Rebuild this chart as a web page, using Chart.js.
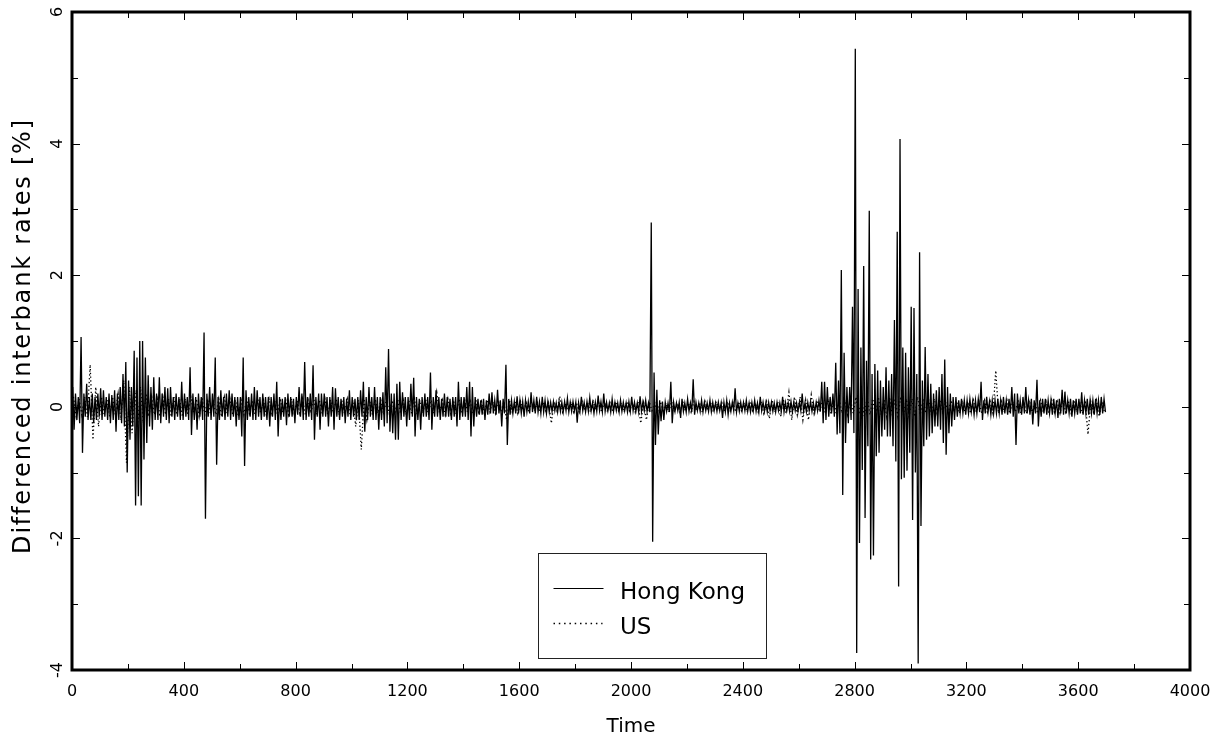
<!DOCTYPE html>
<html><head><meta charset="utf-8">
<script src="https://cdn.jsdelivr.net/npm/chart.js@4.4.0/dist/chart.umd.min.js"></script>
<style>html,body{margin:0;padding:0;background:#fff;}#wrap{width:1220px;height:742px;position:relative;}</style>
</head><body><div id="wrap"><canvas id="c" width="1220" height="742"></canvas></div>
<script>
// ---- Data ----
// Hong Kong: per 10-unit time bin, the upper and lower envelope of the differenced rate (%)
const hkBinStart = 0;
const hkBinWidth = 10;
const hkHigh = [
0.30,0.20,0.15,1.06,0.20,0.35,0.15,0.20,0.15,0.20,
0.28,0.25,0.15,0.20,0.18,0.25,0.20,0.30,0.50,0.68,
0.40,0.30,0.85,0.75,1.00,1.00,0.75,0.48,0.30,0.45,
0.20,0.45,0.20,0.30,0.28,0.30,0.15,0.20,0.15,0.38,
0.20,0.15,0.60,0.20,0.15,0.20,0.15,1.13,0.20,0.30,
0.20,0.75,0.15,0.25,0.15,0.20,0.25,0.20,0.15,0.15,
0.15,0.75,0.25,0.15,0.20,0.30,0.25,0.15,0.20,0.15,
0.15,0.15,0.20,0.38,0.15,0.12,0.15,0.20,0.15,0.12,
0.15,0.30,0.20,0.68,0.15,0.20,0.63,0.15,0.20,0.20,
0.20,0.15,0.15,0.30,0.28,0.15,0.12,0.15,0.12,0.25,
0.15,0.12,0.15,0.25,0.38,0.15,0.30,0.15,0.30,0.15,
0.15,0.22,0.60,0.88,0.20,0.20,0.35,0.38,0.22,0.15,
0.15,0.35,0.44,0.15,0.12,0.15,0.20,0.15,0.52,0.15,
0.25,0.15,0.12,0.20,0.15,0.12,0.15,0.15,0.38,0.15,
0.15,0.30,0.38,0.30,0.15,0.12,0.10,0.12,0.10,0.20,
0.22,0.10,0.26,0.10,0.12,0.64,0.12,0.10,0.08,0.16,
0.10,0.08,0.10,0.08,0.22,0.10,0.15,0.08,0.15,0.10,
0.08,0.07,0.08,0.06,0.08,0.07,0.08,0.13,0.07,0.08,
0.07,0.06,0.15,0.07,0.08,0.14,0.06,0.07,0.17,0.08,
0.20,0.07,0.06,0.12,0.07,0.06,0.10,0.07,0.06,0.08,
0.15,0.07,0.06,0.16,0.07,0.10,0.06,2.80,0.52,0.26,
0.10,0.08,0.07,0.06,0.38,0.07,0.06,0.07,0.12,0.06,
0.12,0.06,0.42,0.07,0.06,0.10,0.07,0.06,0.10,0.07,
0.06,0.07,0.06,0.07,0.10,0.06,0.07,0.28,0.06,0.07,
0.07,0.10,0.06,0.07,0.10,0.06,0.15,0.07,0.06,0.07,
0.07,0.06,0.07,0.06,0.15,0.07,0.06,0.08,0.07,0.06,
0.07,0.20,0.06,0.07,0.08,0.06,0.07,0.10,0.38,0.38,
0.30,0.15,0.20,0.67,0.40,2.08,0.82,0.30,0.30,1.52,
5.44,1.79,0.90,2.14,0.70,2.98,0.50,0.65,0.55,0.40,
0.30,0.60,0.40,0.50,1.32,2.66,4.07,0.90,0.82,0.60,
1.52,1.50,0.50,2.35,0.40,0.91,0.50,0.35,0.20,0.25,
0.30,0.50,0.72,0.30,0.20,0.15,0.15,0.10,0.12,0.10,
0.10,0.12,0.08,0.10,0.12,0.38,0.10,0.15,0.08,0.10,
0.10,0.12,0.10,0.15,0.10,0.12,0.30,0.20,0.20,0.10,
0.15,0.30,0.10,0.12,0.10,0.41,0.10,0.12,0.12,0.10,
0.10,0.12,0.10,0.12,0.26,0.23,0.10,0.12,0.10,0.12,
0.12,0.22,0.10,0.12,0.10,0.10,0.12,0.10,0.15,0.12
];
const hkLow = [
-0.35,-0.20,-0.25,-0.70,-0.15,-0.20,-0.20,-0.25,-0.20,-0.15,
-0.20,-0.15,-0.20,-0.25,-0.20,-0.38,-0.20,-0.25,-0.30,-1.00,
-0.50,-0.30,-1.50,-1.36,-1.50,-0.80,-0.55,-0.30,-0.35,-0.20,
-0.20,-0.25,-0.15,-0.20,-0.25,-0.15,-0.20,-0.15,-0.20,-0.20,
-0.15,-0.20,-0.43,-0.20,-0.35,-0.15,-0.20,-1.70,-0.15,-0.20,
-0.15,-0.88,-0.20,-0.15,-0.20,-0.15,-0.20,-0.15,-0.30,-0.20,
-0.45,-0.90,-0.20,-0.15,-0.20,-0.20,-0.15,-0.20,-0.15,-0.20,
-0.30,-0.15,-0.20,-0.45,-0.20,-0.15,-0.28,-0.15,-0.15,-0.25,
-0.12,-0.15,-0.20,-0.20,-0.15,-0.20,-0.50,-0.15,-0.35,-0.15,
-0.15,-0.30,-0.15,-0.35,-0.15,-0.20,-0.15,-0.25,-0.15,-0.20,
-0.15,-0.20,-0.20,-0.15,-0.38,-0.20,-0.15,-0.20,-0.20,-0.35,
-0.20,-0.30,-0.25,-0.38,-0.40,-0.50,-0.50,-0.20,-0.15,-0.30,
-0.20,-0.15,-0.45,-0.20,-0.35,-0.15,-0.15,-0.20,-0.35,-0.15,
-0.15,-0.20,-0.15,-0.15,-0.15,-0.20,-0.15,-0.30,-0.20,-0.15,
-0.15,-0.20,-0.45,-0.30,-0.15,-0.12,-0.12,-0.20,-0.12,-0.10,
-0.10,-0.12,-0.10,-0.30,-0.10,-0.58,-0.12,-0.10,-0.10,-0.10,
-0.10,-0.15,-0.08,-0.10,-0.08,-0.10,-0.08,-0.10,-0.08,-0.10,
-0.08,-0.07,-0.06,-0.08,-0.07,-0.08,-0.06,-0.08,-0.07,-0.06,
-0.24,-0.07,-0.06,-0.08,-0.07,-0.06,-0.10,-0.07,-0.06,-0.08,
-0.07,-0.06,-0.08,-0.07,-0.06,-0.08,-0.07,-0.06,-0.08,-0.07,
-0.06,-0.07,-0.08,-0.07,-0.06,-0.07,-0.08,-2.05,-0.58,-0.42,
-0.22,-0.20,-0.07,-0.08,-0.25,-0.07,-0.06,-0.17,-0.07,-0.08,
-0.07,-0.08,-0.12,-0.06,-0.07,-0.08,-0.06,-0.07,-0.08,-0.06,
-0.07,-0.06,-0.17,-0.08,-0.12,-0.07,-0.06,-0.08,-0.07,-0.06,
-0.06,-0.07,-0.08,-0.06,-0.07,-0.08,-0.06,-0.07,-0.08,-0.06,
-0.07,-0.08,-0.06,-0.07,-0.08,-0.06,-0.07,-0.08,-0.06,-0.07,
-0.06,-0.07,-0.08,-0.06,-0.07,-0.08,-0.06,-0.07,-0.25,-0.20,
-0.15,-0.10,-0.15,-0.42,-0.40,-1.34,-0.55,-0.25,-0.20,-0.40,
-3.74,-2.07,-0.96,-1.69,-0.60,-2.32,-2.26,-0.75,-0.70,-0.45,
-0.35,-0.45,-0.45,-0.60,-0.83,-2.73,-1.10,-1.08,-0.97,-0.70,
-1.72,-1.00,-3.90,-1.81,-0.60,-0.50,-0.45,-0.40,-0.30,-0.30,
-0.35,-0.55,-0.73,-0.40,-0.30,-0.20,-0.15,-0.10,-0.10,-0.12,
-0.10,-0.08,-0.12,-0.10,-0.08,-0.20,-0.10,-0.08,-0.12,-0.10,
-0.10,-0.10,-0.12,-0.10,-0.12,-0.10,-0.15,-0.58,-0.10,-0.12,
-0.10,-0.10,-0.12,-0.27,-0.10,-0.30,-0.15,-0.10,-0.12,-0.10,
-0.12,-0.10,-0.17,-0.10,-0.12,-0.10,-0.10,-0.15,-0.10,-0.12,
-0.10,-0.12,-0.10,-0.12,-0.10,-0.12,-0.10,-0.12,-0.10,-0.08
];
// US: per 20-unit time bin, upper and lower envelope (%)
const usBinStart = 0;
const usBinWidth = 20;
const usHigh = [
0.15,0.12,0.15,0.64,0.30,0.15,0.12,0.15,0.20,0.40,
0.30,0.25,0.30,0.20,0.15,0.12,0.15,0.12,0.15,0.12,
0.12,0.15,0.12,0.15,0.12,0.10,0.12,0.15,0.12,0.10,
0.10,0.12,0.10,0.12,0.10,0.12,0.10,0.12,0.10,0.12,
0.10,0.12,0.10,0.12,0.10,0.12,0.10,0.12,0.10,0.12,
0.10,0.10,0.12,0.10,0.12,0.10,0.12,0.10,0.12,0.10,
0.10,0.12,0.10,0.12,0.10,0.22,0.10,0.12,0.10,0.12,
0.10,0.08,0.10,0.08,0.10,0.08,0.10,0.08,0.10,0.08,
0.08,0.06,0.08,0.06,0.08,0.06,0.08,0.16,0.06,0.08,
0.06,0.08,0.06,0.08,0.06,0.08,0.06,0.08,0.06,0.08,
0.06,0.08,0.06,0.08,0.06,0.08,0.06,0.08,0.06,0.08,
0.06,0.08,0.06,0.08,0.06,0.08,0.06,0.08,0.06,0.08,
0.06,0.08,0.06,0.08,0.08,0.10,0.08,0.12,0.22,0.15,
0.15,0.10,0.18,0.10,0.10,0.12,0.10,0.12,0.10,0.12,
0.15,0.12,0.15,0.12,0.15,0.12,0.15,0.12,0.15,0.12,
0.12,0.15,0.12,0.10,0.12,0.10,0.08,0.10,0.08,0.10,
0.08,0.10,0.08,0.10,0.08,0.55,0.08,0.10,0.08,0.10,
0.08,0.10,0.08,0.10,0.08,0.10,0.08,0.10,0.08,0.10,
0.08,0.10,0.08,0.10,0.08
];
const usLow = [
-0.15,-0.12,-0.15,-0.50,-0.30,-0.12,-0.15,-0.12,-0.20,-0.85,
-0.40,-0.30,-0.25,-0.15,-0.12,-0.15,-0.12,-0.15,-0.12,-0.15,
-0.12,-0.10,-0.15,-0.12,-0.10,-0.12,-0.15,-0.10,-0.12,-0.15,
-0.12,-0.10,-0.12,-0.10,-0.12,-0.10,-0.12,-0.10,-0.12,-0.10,
-0.10,-0.12,-0.10,-0.12,-0.10,-0.12,-0.10,-0.12,-0.10,-0.12,
-0.30,-0.65,-0.20,-0.12,-0.10,-0.12,-0.10,-0.12,-0.10,-0.12,
-0.10,-0.12,-0.10,-0.12,-0.10,-0.10,-0.12,-0.10,-0.12,-0.10,
-0.08,-0.10,-0.08,-0.10,-0.08,-0.10,-0.08,-0.20,-0.08,-0.10,
-0.06,-0.08,-0.06,-0.08,-0.06,-0.25,-0.06,-0.08,-0.06,-0.08,
-0.08,-0.06,-0.08,-0.06,-0.08,-0.06,-0.08,-0.06,-0.08,-0.06,
-0.08,-0.25,-0.20,-0.06,-0.08,-0.06,-0.08,-0.06,-0.08,-0.06,
-0.08,-0.06,-0.08,-0.06,-0.08,-0.06,-0.08,-0.06,-0.08,-0.06,
-0.08,-0.06,-0.08,-0.10,-0.18,-0.08,-0.15,-0.10,-0.20,-0.12,
-0.20,-0.20,-0.10,-0.08,-0.10,-0.10,-0.12,-0.10,-0.12,-0.10,
-0.12,-0.15,-0.12,-0.15,-0.12,-0.15,-0.12,-0.15,-0.12,-0.15,
-0.15,-0.12,-0.10,-0.12,-0.10,-0.08,-0.10,-0.08,-0.10,-0.08,
-0.10,-0.08,-0.10,-0.08,-0.10,-0.10,-0.08,-0.10,-0.08,-0.10,
-0.10,-0.08,-0.10,-0.08,-0.10,-0.08,-0.10,-0.08,-0.10,-0.08,
-0.10,-0.42,-0.08,-0.15,-0.10
];
const seriesNames = ['Hong Kong', 'US'];
const xTickLabels = [0, 400, 800, 1200, 1600, 2000, 2400, 2800, 3200, 3600, 4000];
const yTickLabels = [-4, -2, 0, 2, 4, 6];
const xTitle = 'Time';
const yTitle = 'Differenced interbank rates [%]';

// Build line points: each bin contributes its high then its low value
function envelopePoints(start, width, hi, lo) {
  const pts = [];
  for (let i = 0; i < hi.length; i++) {
    const b = start + i * width;
    pts.push({x: b + width * 0.25, y: hi[i]});
    pts.push({x: b + width * 0.75, y: lo[i]});
  }
  return pts;
}

const FONT = 'DejaVu Sans';
Chart.defaults.font.family = FONT;
Chart.defaults.color = '#000';

const framePlugin = {
  id: 'frameTicksLegend',
  afterDatasetsDraw(chart) {
    const {ctx, chartArea: ca, scales} = chart;
    const xs = scales.x, ys = scales.y;
    ctx.save();
    ctx.strokeStyle = '#000';
    ctx.lineWidth = 1;
    ctx.setLineDash([]);
    ctx.beginPath();
    xs.ticks.forEach(t => {
      const p = Math.round(xs.getPixelForValue(t.value)) + 0.5;
      const len = xTickLabels.includes(t.value) ? 8 : 6;
      ctx.moveTo(p, ca.bottom); ctx.lineTo(p, ca.bottom - len);
      ctx.moveTo(p, ca.top); ctx.lineTo(p, ca.top + len);
    });
    ys.ticks.forEach(t => {
      const p = Math.round(ys.getPixelForValue(t.value)) + 0.5;
      const len = yTickLabels.includes(t.value) ? 8 : 6;
      ctx.moveTo(ca.left, p); ctx.lineTo(ca.left + len, p);
      ctx.moveTo(ca.right, p); ctx.lineTo(ca.right - len, p);
    });
    ctx.stroke();
    ctx.lineWidth = 3;
    ctx.strokeRect(ca.left, ca.top, ca.right - ca.left, ca.bottom - ca.top);

    // y-axis title (letter-spaced like the original)
    ctx.save();
    ctx.translate(24, (ca.top + ca.bottom) / 2 - 5);
    ctx.rotate(-Math.PI / 2);
    ctx.font = '24px "' + FONT + '"';
    ctx.fillStyle = '#000';
    ctx.textAlign = 'center';
    ctx.textBaseline = 'middle';
    if ('letterSpacing' in ctx) ctx.letterSpacing = '1.8px';
    ctx.fillText(yTitle, 0, 0);
    ctx.restore();

    // legend box
    const lx = ca.left + 466.5, ly = ca.top + 541.5, lw = 228, lh = 105;
    ctx.fillStyle = '#fff';
    ctx.fillRect(lx, ly, lw, lh);
    ctx.lineWidth = 1;
    ctx.strokeStyle = '#222';
    ctx.strokeRect(lx, ly, lw, lh);
    ctx.strokeStyle = '#000';
    ctx.beginPath();
    ctx.moveTo(lx + 15, ly + 35); ctx.lineTo(lx + 65, ly + 35);
    ctx.stroke();
    ctx.setLineDash([1.5, 3.8]);
    ctx.lineWidth = 1.5;
    ctx.beginPath();
    ctx.moveTo(lx + 15, ly + 70); ctx.lineTo(lx + 64, ly + 70);
    ctx.stroke();
    ctx.setLineDash([]);
    ctx.fillStyle = '#000';
    ctx.font = '23px "' + FONT + '"';
    ctx.textBaseline = 'alphabetic';
    ctx.textAlign = 'left';
    ctx.fillText(seriesNames[0], lx + 81.5, ly + 45);
    ctx.fillText(seriesNames[1], lx + 81.5, ly + 80);
    ctx.restore();
  }
};

new Chart(document.getElementById('c'), {
  type: 'line',
  data: {
    datasets: [
      {label: seriesNames[0], data: envelopePoints(hkBinStart, hkBinWidth, hkHigh, hkLow),
       borderColor: '#000', borderWidth: 1.3, pointRadius: 0, tension: 0, fill: false},
      {label: seriesNames[1], data: envelopePoints(usBinStart, usBinWidth, usHigh, usLow),
       borderColor: '#000', borderWidth: 1.3, borderDash: [1.3, 2.5], pointRadius: 0, tension: 0, fill: false}
    ]
  },
  plugins: [framePlugin],
  options: {
    responsive: false,
    animation: false,
    events: [],
    layout: {padding: {top: 12, right: 30, left: 0, bottom: 0}},
    plugins: {legend: {display: false}, tooltip: {enabled: false}},
    scales: {
      x: {
        type: 'linear', min: 0, max: 4000,
        grid: {display: false}, border: {display: false},
        afterFit: s => { s.height = 72; s.paddingLeft = 0; s.paddingRight = 0; },
        ticks: {stepSize: 200, autoSkip: false, maxRotation: 0, padding: 4,
                font: {size: 16, family: FONT},
                callback: v => xTickLabels.includes(v) ? String(v) : ''},
        title: {display: true, text: xTitle, font: {size: 20, family: FONT}, padding: {top: 0, bottom: 3}}
      },
      y: {
        type: 'linear', min: -4, max: 6,
        grid: {display: false}, border: {display: false},
        afterFit: s => { s.width = 72; s.paddingTop = 0; s.paddingBottom = 0; },
        ticks: {stepSize: 1, autoSkip: false, minRotation: 90, maxRotation: 90, crossAlign: 'center', padding: -2,
                font: {size: 16, family: FONT},
                callback: v => yTickLabels.includes(v) ? String(v) : ''},
        title: {display: false}
      }
    }
  }
});
</script></body></html>
